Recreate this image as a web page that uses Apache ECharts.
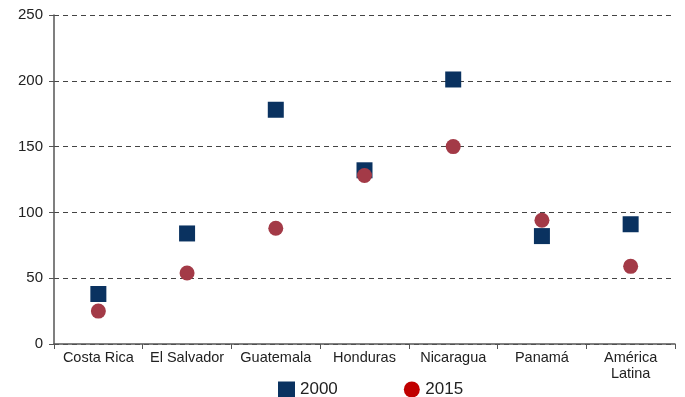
<!DOCTYPE html>
<html>
<head>
<meta charset="utf-8">
<script src="https://cdn.jsdelivr.net/npm/echarts@6/dist/echarts.min.js"></script>
<style>
  html, body { margin: 0; padding: 0; background: #fff; }
  #chart { width: 685px; height: 397px; }
</style>
</head>
<body>
<div id="chart"></div>
<script>
const categories = ['Costa Rica', 'El Salvador', 'Guatemala', 'Honduras', 'Nicaragua', 'Panamá', 'América\nLatina'];
const values2000 = [38, 84, 178, 132, 201, 82, 91];
const values2015 = [25, 54, 88, 128, 150, 94, 59];

const chart = echarts.init(document.getElementById('chart'));
const font = 'Liberation Sans, Arial, sans-serif';

chart.setOption({
  animation: false,
  textStyle: { fontFamily: font },
  grid: { left: 54, right: 10, top: 15, bottom: 53 },
  legend: {
    bottom: -6,
    left: 273,
    itemGap: 66,
    itemWidth: 17,
    itemHeight: 16,
    textStyle: { fontSize: 17, color: '#222', fontFamily: font },
    data: [
      { name: '2000', icon: 'rect', itemStyle: { color: '#0a3260' } },
      { name: '2015', icon: 'circle', itemStyle: { color: '#c00000' } }
    ]
  },
  xAxis: {
    type: 'category',
    data: categories,
    axisLine: { lineStyle: { color: '#555', width: 1.5 } },
    axisTick: { show: true, length: 5, lineStyle: { color: '#555' } },
    axisLabel: { color: '#222', fontSize: 14.5, margin: 6, interval: 0, lineHeight: 16 }
  },
  yAxis: {
    type: 'value',
    min: 0,
    max: 250,
    interval: 50,
    axisLine: { show: true, lineStyle: { color: '#555', width: 1.5 } },
    axisTick: { show: true, length: 5, lineStyle: { color: '#555' } },
    axisLabel: { color: '#222', fontSize: 15, margin: 11 },
    splitLine: { lineStyle: { color: '#444', type: [5, 4], width: 1 } }
  },
  series: [
    {
      name: '2000',
      type: 'scatter',
      symbol: 'rect',
      symbolSize: 16,
      itemStyle: { color: '#0a3260', opacity: 1 },
      data: values2000
    },
    {
      name: '2015',
      type: 'scatter',
      symbol: 'circle',
      symbolSize: 15,
      itemStyle: { color: '#a33a47', opacity: 1 },
      data: values2015
    }
  ]
});
</script>
</body>
</html>
